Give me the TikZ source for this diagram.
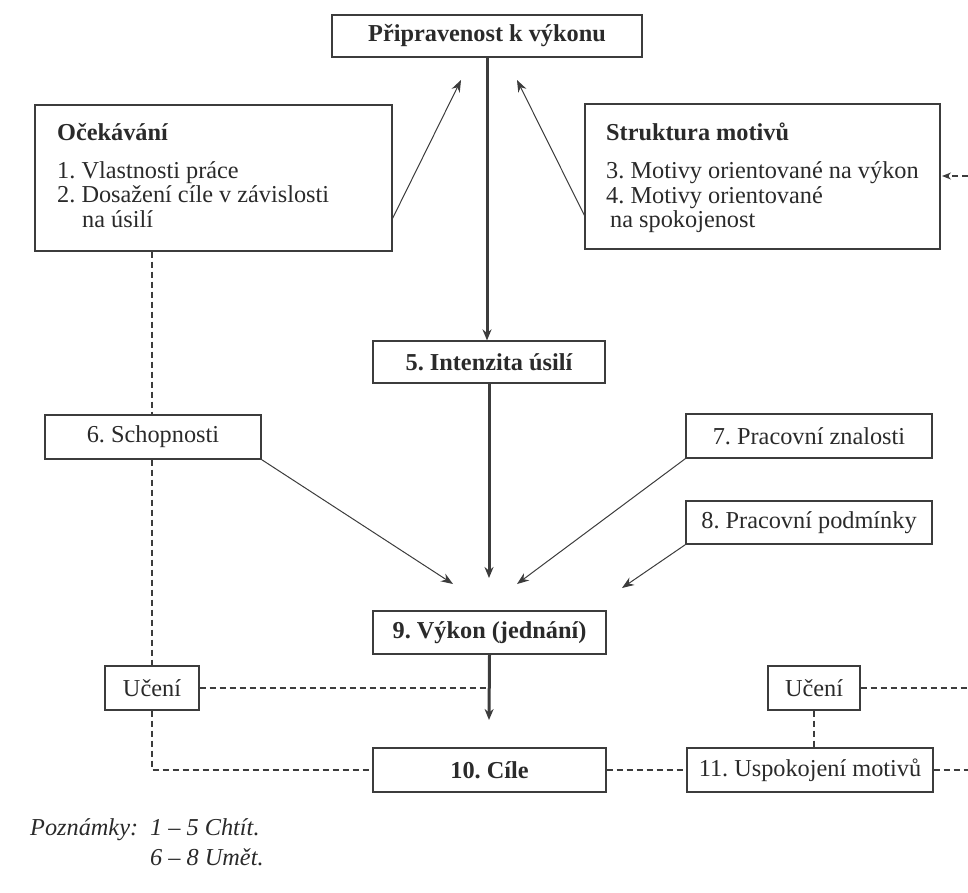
\documentclass[tikz,border=0pt]{standalone}
\usepackage{fontspec}
\setmainfont{Liberation Serif}
\usetikzlibrary{arrows.meta,calc}
\definecolor{ink}{HTML}{2A2A2A}
\definecolor{lin}{HTML}{3C3C3C}
\frenchspacing
\begin{document}
\begin{tikzpicture}[x=1pt,y=-1pt,
  every node/.style={font=\fontsize{24.3}{25}\selectfont, text=ink},
  box/.style={draw=lin, line width=1.2pt, inner sep=0pt},
  txt/.style={anchor=base west, inner sep=0pt},
  thick arrow/.style={draw=lin, line width=3pt, -{Stealth[length=11pt,width=9pt]}},
  thin arrow/.style={draw=lin, line width=1pt, -{Stealth[length=12pt,width=9pt]}},
  dash line/.style={draw=lin, line width=1.1pt, dash pattern=on 6pt off 4pt}]
\useasboundingbox (0,0) rectangle (968,892);
% boxes
\node[box, minimum width=310pt, minimum height=42pt] (top) at (487,36) {\bfseries Připravenost k výkonu};
\node[box, minimum width=357pt, minimum height=146pt] (oc) at (213.5,178) {};
\node[txt] (oct) at (57,140) {\bfseries Očekávání};
\node[txt] (oc1) at (57,178) {1. Vlastnosti práce};
\node[txt] (oc2) at (57,202) {2. Dosažení cíle v závislosti};
\node[txt] (oc3) at (82,227) {na úsilí};
\node[box, minimum width=355pt, minimum height=145pt] (st) at (762.5,176.5) {};
\node[txt] (stt) at (606,140) {\bfseries Struktura motivů};
\node[txt] (st1) at (606,178) {3. Motivy orientované na výkon};
\node[txt] (st2) at (606,203) {4. Motivy orientované};
\node[txt] (st3) at (610,227) {na spokojenost};
\node[box, minimum width=232pt, minimum height=42pt] (int) at (489,362) {\bfseries 5. Intenzita úsilí};
\node[box, minimum width=216pt, minimum height=44pt] (sch) at (153,437) {6. Schopnosti};
\node[box, minimum width=246pt, minimum height=44pt] (zn) at (809,436) {7. Pracovní znalosti};
\node[box, minimum width=246pt, minimum height=43pt] (pod) at (809,522.5) {8. Pracovní podmínky};
\node[box, minimum width=233pt, minimum height=43pt] (vyk) at (489.5,632.5) {\bfseries 9. Výkon (jednání)};
\node[box, minimum width=94pt, minimum height=44pt] (ucL) at (152,688) {Učení};
\node[box, minimum width=92pt, minimum height=44pt] (ucR) at (814,688) {Učení};
\node[box, minimum width=233pt, minimum height=44pt] (cil) at (489.5,770) {\bfseries 10. Cíle};
\node[box, minimum width=246pt, minimum height=44pt] (usp) at (810,770) {11. Uspokojení motivů};
% free ends
\coordinate (tipOc) at (461,80);
\coordinate (tipSt) at (517,80);
\coordinate (tipInt) at (489,578);
\coordinate (tipVyk) at (489,720);
\coordinate (tipSch) at (453,584);
\coordinate (tipZn) at (517,584);
\coordinate (tipPod) at (622,588);
\coordinate (dashR) at (968,176);
\coordinate (dashRtip) at (942,176);
\coordinate (ucLend) at (489,688);
\coordinate (ucRend) at (968,688);
\coordinate (uspEnd) at (968,770);
\coordinate (corner) at (ucL.south |- cil.west);
% thick arrows
\draw[thick arrow] (top.south) -- (top.south |- int.north);
\draw[thick arrow] (int.south) -- (tipInt);
\draw[thick arrow] (vyk.south) -- (tipVyk);
% thin arrows
\draw[thin arrow] ($(oc.north east)!0.774!(oc.south east)$) -- (tipOc);
\draw[thin arrow] ($(st.north west)!0.766!(st.south west)$) -- (tipSt);
\draw[thin arrow] (sch.south east) -- (tipSch);
\draw[thin arrow] (zn.south west) -- (tipZn);
\draw[thin arrow] (pod.south west) -- (tipPod);
\draw[dash line, -{Stealth[length=9pt,width=7pt]}] (dashR) -- (dashRtip);
% dashed links
\draw[dash line] (oc.south -| ucL.north) -- (sch.north -| ucL.north);
\draw[dash line] (sch.south -| ucL.north) -- (ucL.north);
\draw[dash line] (ucL.south) -- (corner) -- (cil.west);
\draw[dash line] (ucL.east) -- (ucLend);
\draw[dash line] (ucR.east) -- (ucRend);
\draw[dash line] (ucR.south) -- (ucR.south |- usp.north);
\draw[dash line] (cil.east) -- (usp.west);
\draw[dash line] (usp.east) -- (uspEnd);
% notes
\node[txt] (n0) at (30,835) {\itshape Poznámky:};
\node[txt] (n1) at (150,835) {\itshape 1 – 5 Chtít.};
\node[txt] (n2) at (150,865) {\itshape 6 – 8 Umět.};
\end{tikzpicture}
\end{document}
